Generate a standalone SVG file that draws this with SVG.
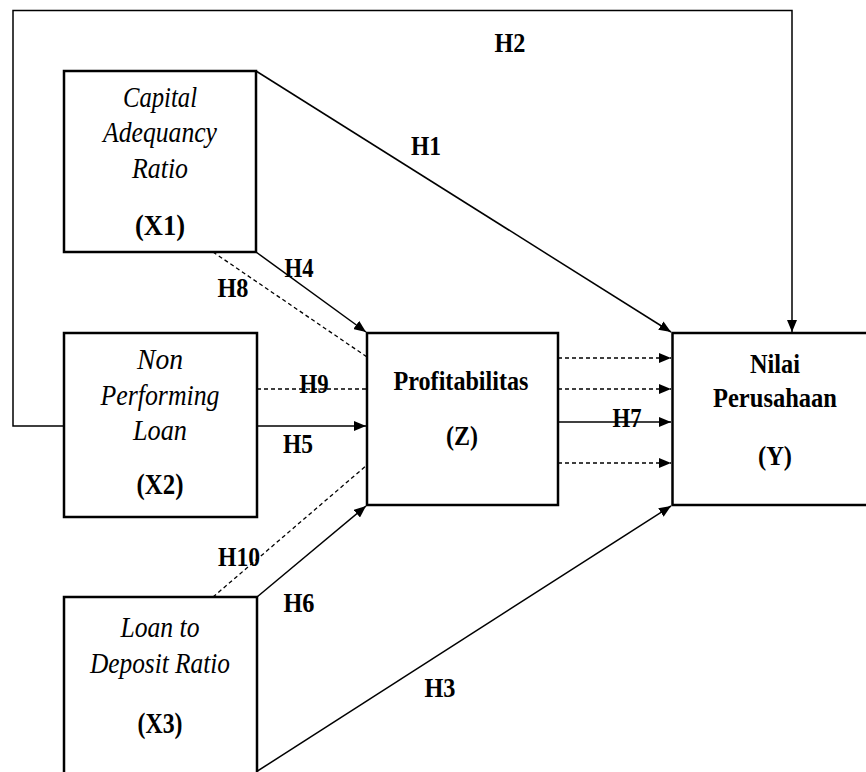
<svg xmlns="http://www.w3.org/2000/svg" width="866" height="772" viewBox="0 0 866 772">
<style>
.box{fill:#fff;stroke:#000;stroke-width:2.5}
text{font-family:"Liberation Serif","Times New Roman",serif;fill:#000;text-anchor:middle}
.it{font-style:italic;font-size:30px}
.bd{font-weight:bold;font-size:30px}
.bd24{font-weight:bold;font-size:28px}
.lbl{font-weight:bold;font-size:28px}
.ln{fill:none;stroke:#000;stroke-width:1.5}
.ar{marker-end:url(#ah)}
.ds{fill:none;stroke:#000;stroke-width:1.3;stroke-dasharray:4 3}
</style>
<defs>
<marker id="ah" viewBox="0 0 12 10" refX="12" refY="5" markerWidth="12" markerHeight="10" markerUnits="userSpaceOnUse" orient="auto">
<path d="M0,0 L12,5 L0,10 z" fill="#000"/>
</marker>
</defs>
<rect width="866" height="772" fill="#fff"/>
<g id="connectors">
<path class="ln ar" d="M64,426 L13,426 L13,10.5 L792,10.5 L792,332"/>
<line class="ln ar" x1="256" y1="71" x2="671" y2="332"/>
<line class="ln ar" x1="256" y1="252" x2="366" y2="332"/>
<line class="ds" x1="213" y1="252" x2="367" y2="357"/>
<line class="ds" x1="257" y1="389" x2="367" y2="389"/>
<line class="ln ar" x1="257" y1="426" x2="366" y2="426"/>
<line class="ds" x1="213" y1="597" x2="367" y2="465"/>
<line class="ln ar" x1="257" y1="597" x2="366" y2="506"/>
<line class="ln ar" x1="256" y1="772" x2="671" y2="506"/>
<line class="ds ar" x1="558" y1="358" x2="671" y2="358"/>
<line class="ds ar" x1="558" y1="389" x2="671" y2="389"/>
<line class="ln ar" x1="558" y1="422" x2="671" y2="422"/>
<line class="ds ar" x1="558" y1="463" x2="671" y2="463"/>
</g>
<g id="labels">
<text class="lbl" x="510" y="52" textLength="31" lengthAdjust="spacingAndGlyphs">H2</text>
<text class="lbl" x="426" y="155" textLength="30" lengthAdjust="spacingAndGlyphs">H1</text>
<text class="lbl" x="299" y="277" textLength="29" lengthAdjust="spacingAndGlyphs">H4</text>
<text class="lbl" x="233" y="297" textLength="31" lengthAdjust="spacingAndGlyphs">H8</text>
<text class="lbl" x="314" y="393" textLength="29" lengthAdjust="spacingAndGlyphs">H9</text>
<text class="lbl" x="298" y="453" textLength="30" lengthAdjust="spacingAndGlyphs">H5</text>
<text class="lbl" x="627" y="427" textLength="29" lengthAdjust="spacingAndGlyphs">H7</text>
<text class="lbl" x="239" y="566" textLength="42" lengthAdjust="spacingAndGlyphs">H10</text>
<text class="lbl" x="299" y="612" textLength="31" lengthAdjust="spacingAndGlyphs">H6</text>
<text class="lbl" x="440" y="697" textLength="31" lengthAdjust="spacingAndGlyphs">H3</text>
</g>
<g id="x1">
<rect class="box" x="64" y="71" width="192" height="181"/>
<text class="it" x="160" y="107" textLength="74" lengthAdjust="spacingAndGlyphs">Capital</text>
<text class="it" x="160" y="142" textLength="114" lengthAdjust="spacingAndGlyphs">Adequancy</text>
<text class="it" x="160" y="178" textLength="56" lengthAdjust="spacingAndGlyphs">Ratio</text>
<text class="bd" x="160" y="235" textLength="50" lengthAdjust="spacingAndGlyphs">(X1)</text>
</g>
<g id="x2">
<rect class="box" x="64" y="333" width="193" height="184"/>
<text class="it" x="160" y="369" textLength="46" lengthAdjust="spacingAndGlyphs">Non</text>
<text class="it" x="160" y="405" textLength="119" lengthAdjust="spacingAndGlyphs">Performing</text>
<text class="it" x="160" y="440" textLength="54" lengthAdjust="spacingAndGlyphs">Loan</text>
<text class="bd" x="160" y="494" textLength="47" lengthAdjust="spacingAndGlyphs">(X2)</text>
</g>
<g id="x3">
<rect class="box" x="64" y="597" width="193" height="190"/>
<text class="it" x="160" y="637" textLength="79" lengthAdjust="spacingAndGlyphs">Loan to</text>
<text class="it" x="160" y="673" textLength="140" lengthAdjust="spacingAndGlyphs">Deposit Ratio</text>
<text class="bd" x="160" y="733" textLength="45" lengthAdjust="spacingAndGlyphs">(X3)</text>
</g>
<g id="z">
<rect class="box" x="367" y="333" width="191" height="172"/>
<text class="bd24" x="461" y="390" textLength="135" lengthAdjust="spacingAndGlyphs">Profitabilitas</text>
<text class="bd24" x="462" y="445" textLength="32" lengthAdjust="spacingAndGlyphs">(Z)</text>
</g>
<g id="y">
<rect class="box" x="672.5" y="333" width="210" height="172"/>
<text class="bd24" x="775" y="373" textLength="50" lengthAdjust="spacingAndGlyphs">Nilai</text>
<text class="bd24" x="775" y="407" textLength="124" lengthAdjust="spacingAndGlyphs">Perusahaan</text>
<text class="bd24" x="775" y="465" textLength="34" lengthAdjust="spacingAndGlyphs">(Y)</text>
</g>
</svg>
